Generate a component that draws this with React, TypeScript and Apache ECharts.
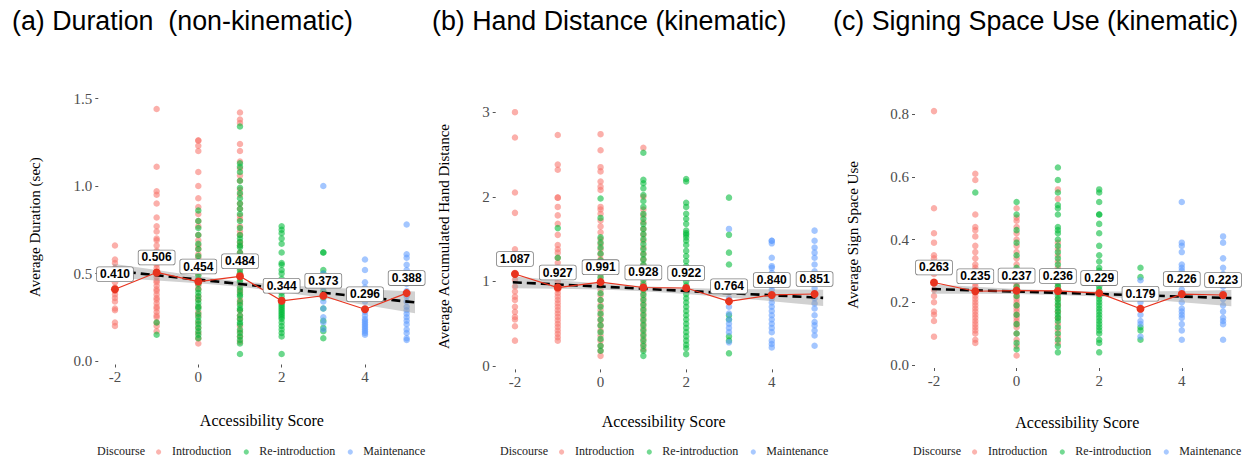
import React, { useEffect, useRef } from "react";
import * as echarts from "echarts";

const scores = [-2, -1, 0, 1, 2, 3, 4, 5];
const xTickValues = [-2, 0, 2, 4];
const categories = ["Introduction", "Re-introduction", "Maintenance"];
const panelTitles = ["(a) Duration  (non-kinematic)", "(b) Hand Distance (kinematic)", "(c) Signing Space Use (kinematic)"];
const yTitles = ["Average Duration (sec)", "Average Accumulated Hand Distance", "Average Sign Space Use"];
const xTitle = "Accessibility Score";
const legendTitle = "Discourse";

// ---- (a) Duration ----
const durIntro: number[][] = [
  [0.66, 0.58, 0.56, 0.53, 0.5, 0.47, 0.45, 0.42, 0.4, 0.38, 0.36, 0.34, 0.3, 0.29, 0.22, 0.2],
  [1.44, 1.11, 0.97, 0.95, 0.9, 0.82, 0.77, 0.74, 0.7, 0.69, 0.66, 0.63, 0.62, 0.6, 0.57, 0.56, 0.55, 0.53, 0.51, 0.5, 0.48, 0.46, 0.45, 0.43, 0.41, 0.4, 0.38, 0.36, 0.35, 0.33, 0.31, 0.3, 0.28, 0.26, 0.25, 0.22, 0.2, 0.17],
  [1.26, 1.26, 1.23, 1.2, 1.08, 1.0, 0.93, 0.88, 0.84, 0.8, 0.77, 0.72, 0.69, 0.66, 0.64, 0.61, 0.59, 0.55, 0.52, 0.5, 0.46, 0.43, 0.41, 0.37, 0.35, 0.31, 0.28, 0.26, 0.22, 0.19, 0.16, 0.13, 0.1],
  [1.42, 1.38, 1.36, 1.24, 1.2, 1.14, 1.1, 1.06, 1.03, 0.98, 0.95, 0.9, 0.87, 0.83, 0.81, 0.77, 0.74, 0.72, 0.68, 0.66, 0.62, 0.59, 0.57, 0.53, 0.5, 0.48, 0.44, 0.41, 0.39, 0.35, 0.33, 0.29, 0.26, 0.24, 0.2, 0.17, 0.14, 0.11],
  [], [], [], [],
];
const durReintro: number[][] = [
  [],
  [0.22, 0.15],
  [0.86, 0.8, 0.76, 0.72, 0.67, 0.64, 0.6, 0.57, 0.55, 0.53, 0.51, 0.49, 0.47, 0.45, 0.44, 0.41, 0.39, 0.37, 0.35, 0.33, 0.31, 0.3, 0.27, 0.25, 0.23, 0.21, 0.19, 0.17, 0.15, 0.13],
  [1.34, 1.13, 1.11, 1.08, 1.03, 0.99, 0.96, 0.93, 0.9, 0.87, 0.84, 0.8, 0.76, 0.72, 0.7, 0.68, 0.66, 0.65, 0.62, 0.6, 0.58, 0.56, 0.55, 0.52, 0.5, 0.48, 0.46, 0.45, 0.42, 0.4, 0.38, 0.37, 0.34, 0.32, 0.3, 0.29, 0.26, 0.24, 0.22, 0.21, 0.18, 0.16, 0.14, 0.12, 0.1, 0.04],
  [0.77, 0.75, 0.73, 0.7, 0.67, 0.62, 0.56, 0.55, 0.52, 0.5, 0.47, 0.45, 0.43, 0.41, 0.39, 0.37, 0.35, 0.33, 0.32, 0.31, 0.3, 0.29, 0.28, 0.27, 0.26, 0.25, 0.24, 0.22, 0.2, 0.18, 0.16, 0.14, 0.04],
  [0.62, 0.62, 0.52, 0.5, 0.45, 0.4, 0.36, 0.3, 0.23, 0.19, 0.17, 0.13],
  [], [],
];
const durMaint: number[][] = [
  [], [], [], [], [],
  [1.0, 0.5, 0.42, 0.38, 0.34, 0.3, 0.25, 0.22, 0.18],
  [0.58, 0.52, 0.45, 0.42, 0.4, 0.37, 0.34, 0.3, 0.28, 0.26, 0.24, 0.23, 0.22, 0.21, 0.2, 0.19, 0.18, 0.17, 0.16, 0.15],
  [0.78, 0.61, 0.59, 0.55, 0.52, 0.48, 0.44, 0.4, 0.37, 0.34, 0.31, 0.29, 0.27, 0.25, 0.23, 0.21, 0.18, 0.16, 0.13, 0.12],
];
const durMeans = [0.41, 0.506, 0.454, 0.484, 0.344, 0.373, 0.296, 0.388];
const fitX = [-2.05, -1, 0, 1, 2, 3, 4, 5.2];
const durFit = [0.516, 0.49, 0.465, 0.44, 0.415, 0.39, 0.365, 0.335];
const durLo = [0.476, 0.46, 0.445, 0.425, 0.395, 0.36, 0.32, 0.273];
const durHi = [0.556, 0.52, 0.485, 0.455, 0.435, 0.42, 0.41, 0.397];

// ---- (b) Hand distance ----
const handIntro: number[][] = [
  [3.0, 2.7, 2.05, 1.81, 1.38, 1.1, 1.02, 0.94, 0.88, 0.82, 0.78, 0.7, 0.64, 0.58, 0.55, 0.47, 0.3],
  [2.73, 2.38, 2.32, 1.99, 1.99, 1.88, 1.78, 1.68, 1.55, 1.43, 1.38, 1.34, 1.28, 1.22, 1.16, 1.1, 1.05, 1.0, 0.95, 0.9, 0.86, 0.82, 0.78, 0.74, 0.7, 0.66, 0.62, 0.58, 0.54, 0.5, 0.46, 0.42, 0.38, 0.34, 0.3],
  [2.74, 2.55, 2.35, 2.3, 2.18, 2.12, 2.08, 1.88, 1.85, 1.8, 1.72, 1.65, 1.58, 1.5, 1.44, 1.38, 1.32, 1.26, 1.2, 1.14, 1.08, 1.02, 0.96, 0.9, 0.84, 0.78, 0.72, 0.66, 0.6, 0.54, 0.48, 0.42, 0.36, 0.3, 0.24, 0.18, 0.12],
  [2.58, 2.0, 1.85, 1.78, 1.7, 1.62, 1.55, 1.48, 1.4, 1.33, 1.26, 1.19, 1.12, 1.05, 0.98, 0.92, 0.86, 0.8, 0.74, 0.68, 0.62, 0.56, 0.5, 0.44, 0.38, 0.32, 0.26, 0.2],
  [], [], [], [],
];
const handReintro: number[][] = [
  [],
  [1.63, 1.28, 1.1],
  [1.98, 1.75, 1.52, 1.46, 1.4, 1.33, 1.25, 1.15, 1.05, 0.95, 0.86, 0.78, 0.7, 0.62, 0.55, 0.48, 0.4, 0.32, 0.24, 0.18],
  [2.52, 2.2, 2.16, 2.1, 2.02, 1.95, 1.88, 1.8, 1.74, 1.68, 1.62, 1.56, 1.5, 1.44, 1.38, 1.32, 1.26, 1.2, 1.14, 1.08, 1.02, 0.96, 0.9, 0.84, 0.78, 0.72, 0.66, 0.6, 0.54, 0.48, 0.42, 0.36, 0.3, 0.24, 0.18, 0.12],
  [2.21, 2.18, 1.93, 1.88, 1.8, 1.74, 1.68, 1.6, 1.57, 1.55, 1.52, 1.48, 1.43, 1.36, 1.3, 1.24, 1.18, 1.12, 1.06, 1.0, 0.95, 0.9, 0.85, 0.8, 0.75, 0.7, 0.65, 0.6, 0.55, 0.5, 0.45, 0.4, 0.35, 0.3, 0.25, 0.21, 0.14],
  [1.99, 1.55, 1.34, 1.2, 0.6, 0.55, 0.35, 0.3, 0.15],
  [], [],
];
const handMaint: number[][] = [
  [], [], [], [], [],
  [1.62, 0.9, 0.8, 0.7, 0.62, 0.55, 0.5, 0.45, 0.4, 0.28],
  [1.48, 1.48, 1.45, 1.28, 1.18, 1.16, 1.1, 1.0, 0.95, 0.9, 0.85, 0.8, 0.75, 0.7, 0.65, 0.6, 0.55, 0.5, 0.45, 0.4, 0.3, 0.26, 0.22],
  [1.6, 1.48, 1.4, 1.34, 1.28, 1.2, 1.12, 1.05, 0.98, 0.92, 0.86, 0.8, 0.74, 0.68, 0.6, 0.52, 0.48, 0.42, 0.36, 0.24],
];
const handMeans = [1.087, 0.927, 0.991, 0.928, 0.922, 0.764, 0.84, 0.851];
const handFit = [0.99, 0.964, 0.939, 0.913, 0.887, 0.861, 0.836, 0.805];
const handLo = [0.92, 0.914, 0.904, 0.883, 0.852, 0.811, 0.766, 0.71];
const handHi = [1.06, 1.014, 0.974, 0.943, 0.922, 0.911, 0.906, 0.9];

// ---- (c) Sign space ----
const spaceIntro: number[][] = [
  [0.81, 0.5, 0.42, 0.39, 0.35, 0.34, 0.29, 0.26, 0.24, 0.22, 0.2, 0.17, 0.16, 0.14, 0.09],
  [0.61, 0.59, 0.48, 0.44, 0.43, 0.41, 0.38, 0.36, 0.34, 0.32, 0.31, 0.3, 0.29, 0.28, 0.27, 0.26, 0.25, 0.24, 0.23, 0.22, 0.21, 0.2, 0.19, 0.18, 0.17, 0.16, 0.15, 0.14, 0.13, 0.12, 0.11, 0.1, 0.08, 0.07],
  [0.5, 0.47, 0.46, 0.44, 0.42, 0.4, 0.38, 0.36, 0.34, 0.32, 0.3, 0.28, 0.27, 0.26, 0.25, 0.24, 0.23, 0.22, 0.21, 0.2, 0.19, 0.18, 0.17, 0.16, 0.15, 0.14, 0.13, 0.12, 0.1, 0.08, 0.06, 0.03],
  [0.56, 0.53, 0.39, 0.37, 0.35, 0.33, 0.31, 0.29, 0.27, 0.25, 0.23, 0.21, 0.19, 0.17, 0.15, 0.13, 0.11, 0.09, 0.07],
  [], [], [], [],
];
const spaceReintro: number[][] = [
  [],
  [0.55],
  [0.52, 0.48, 0.43, 0.39, 0.35, 0.31, 0.28, 0.25, 0.22, 0.19, 0.16, 0.13, 0.1, 0.07, 0.05],
  [0.63, 0.59, 0.55, 0.51, 0.5, 0.48, 0.44, 0.43, 0.42, 0.4, 0.38, 0.36, 0.34, 0.32, 0.3, 0.29, 0.28, 0.27, 0.26, 0.25, 0.24, 0.23, 0.22, 0.21, 0.2, 0.19, 0.18, 0.17, 0.16, 0.15, 0.14, 0.12, 0.1, 0.08, 0.06, 0.04],
  [0.56, 0.55, 0.52, 0.48, 0.48, 0.45, 0.42, 0.38, 0.35, 0.33, 0.31, 0.3, 0.29, 0.28, 0.27, 0.26, 0.25, 0.24, 0.23, 0.22, 0.21, 0.2, 0.19, 0.18, 0.17, 0.16, 0.15, 0.14, 0.13, 0.12, 0.11, 0.1, 0.08, 0.07, 0.04],
  [0.31, 0.28, 0.22, 0.12, 0.11, 0.08],
  [], [],
];
const spaceMaint: number[][] = [
  [], [], [], [], [],
  [0.27, 0.22, 0.2, 0.18, 0.16, 0.14, 0.13, 0.09],
  [0.52, 0.39, 0.38, 0.36, 0.32, 0.31, 0.3, 0.28, 0.26, 0.24, 0.22, 0.2, 0.18, 0.17, 0.16, 0.15, 0.13, 0.11, 0.08],
  [0.41, 0.39, 0.34, 0.31, 0.29, 0.27, 0.25, 0.23, 0.21, 0.19, 0.17, 0.15, 0.14, 0.13, 0.08],
];
const spaceMeans = [0.263, 0.235, 0.237, 0.236, 0.229, 0.179, 0.226, 0.223];
const spaceFit = [0.242, 0.238, 0.234, 0.23, 0.226, 0.222, 0.218, 0.213];
const spaceLo = [0.227, 0.227, 0.226, 0.223, 0.218, 0.21, 0.2, 0.187];
const spaceHi = [0.257, 0.249, 0.242, 0.237, 0.234, 0.234, 0.236, 0.239];

const durTicks = [0, 0.5, 1, 1.5];
const handTicks = [0, 1, 2, 3];
const spaceTicks = [0, 0.2, 0.4, 0.6, 0.8];

const catColors = ["#F8766D", "#00BA38", "#619CFF"];
const meanColor = "#E8341F";

export default function App() {
  const ref = useRef<HTMLDivElement>(null);
  useEffect(() => {
    document.body.style.margin = "0";
    if (!ref.current) return;
    const chart = echarts.init(ref.current, undefined, { renderer: "svg" });

    const panels = [
      {
        groups: [durIntro, durReintro, durMaint], means: durMeans, fit: durFit, lo: durLo, hi: durHi,
        ticks: durTicks, dec: 1,
        grid: { left: 98.3, top: 89.75, width: 327.1, height: 274.75 },
        x: [-2.4, 5.45], y: [-0.02, 1.55], yGap: 56, xGap: 48,
        legendX: 97, legendY: 452, titleX: 12,
      },
      {
        groups: [handIntro, handReintro, handMaint], means: handMeans, fit: handFit, lo: handLo, hi: handHi,
        ticks: handTicks, dec: 0,
        grid: { left: 495.7, top: 103.7, width: 336, height: 265.7 },
        x: [-2.45, 5.4], y: [-0.04, 3.1], yGap: 44, xGap: 44,
        legendX: 500, legendY: 452, titleX: 432,
      },
      {
        groups: [spaceIntro, spaceReintro, spaceMaint], means: spaceMeans, fit: spaceFit, lo: spaceLo, hi: spaceHi,
        ticks: spaceTicks, dec: 1,
        grid: { left: 915, top: 101.7, width: 324.6, height: 266.3 },
        x: [-2.46, 5.4], y: [-0.01, 0.84], yGap: 55, xGap: 46,
        legendX: 913, legendY: 452, titleX: 833,
      },
    ];

    const tickLabelStyle = { fontFamily: "Liberation Serif", fontSize: 15, color: "#4d4d4d" };
    const grids: any[] = [];
    const xAxes: any[] = [];
    const yAxes: any[] = [];
    const series: any[] = [];
    const graphics: any[] = [];
    const titles: any[] = [];

    panels.forEach((p, pi) => {
      grids.push({ ...p.grid, containLabel: false });
      xAxes.push({
        type: "value", gridIndex: pi, min: p.x[0], max: p.x[1],
        name: xTitle, nameLocation: "middle", nameGap: p.xGap,
        nameTextStyle: { fontFamily: "Liberation Serif", fontSize: 16, color: "#000" },
        axisLine: { show: false, onZero: false }, splitLine: { show: false },
        axisTick: { show: true, length: 3, lineStyle: { color: "#555", width: 1 }, customValues: xTickValues },
        axisLabel: { ...tickLabelStyle, margin: 5, customValues: xTickValues, formatter: (v: number) => String(v) },
      });
      yAxes.push({
        type: "value", gridIndex: pi, min: p.y[0], max: p.y[1],
        name: yTitles[pi], nameLocation: "middle", nameGap: p.yGap,
        nameTextStyle: { fontFamily: "Liberation Serif", fontSize: 15, color: "#000" },
        axisLine: { show: false, onZero: false }, splitLine: { show: false },
        axisTick: { show: true, length: 3, lineStyle: { color: "#555", width: 1 }, customValues: p.ticks },
        axisLabel: { ...tickLabelStyle, margin: 6, customValues: p.ticks, formatter: (v: number) => v.toFixed(p.dec) },
      });

      p.groups.forEach((g, gi) => {
        const data: number[][] = [];
        g.forEach((vals, si) => vals.forEach((v) => data.push([scores[si], v])));
        series.push({
          type: "scatter", name: categories[gi], xAxisIndex: pi, yAxisIndex: pi,
          data, symbol: "circle", symbolSize: 6.5, z: 2,
          itemStyle: { color: catColors[gi], opacity: 0.58 },
          silent: true,
        });
      });

      const bandData = fitX.map((x, i) => [x, p.lo[i], p.hi[i]]);
      series.push({
        type: "custom", xAxisIndex: pi, yAxisIndex: pi, z: 3, silent: true,
        data: bandData,
        encode: { x: 0, y: [1, 2] },
        renderItem: (params: any, api: any) => {
          if (params.dataIndex !== 0) return null;
          const pts: number[][] = [];
          for (let i = 0; i < bandData.length; i++) pts.push(api.coord([bandData[i][0], bandData[i][2]]));
          for (let i = bandData.length - 1; i >= 0; i--) pts.push(api.coord([bandData[i][0], bandData[i][1]]));
          return { type: "polygon", shape: { points: pts }, style: { fill: "rgba(153,153,153,0.45)" } };
        },
      });
      series.push({
        type: "line", xAxisIndex: pi, yAxisIndex: pi, z: 4, silent: true,
        data: fitX.map((x, i) => [x, p.fit[i]]), showSymbol: false, symbol: "none",
        lineStyle: { color: "#000", width: 2.6, type: [9, 5] },
      });
      series.push({
        type: "line", xAxisIndex: pi, yAxisIndex: pi, z: 5, silent: true,
        data: scores.map((s, i) => [s, p.means[i]]),
        symbol: "circle", symbolSize: 8, showSymbol: true,
        lineStyle: { color: meanColor, width: 1.2 },
        itemStyle: { color: meanColor },
        label: {
          show: true, position: "top", distance: 4,
          formatter: (d: any) => d.value[1].toFixed(3),
          fontFamily: "Liberation Sans", fontWeight: "bold", fontSize: 12, color: "#000",
          backgroundColor: "#fff", borderColor: "#808080", borderWidth: 0.8, borderRadius: 2,
          padding: [1, 3, 1, 3],
        },
      });

      titles.push({
        text: panelTitles[pi], left: p.titleX, top: 7, padding: 0,
        textStyle: { fontFamily: "Liberation Sans", fontSize: 26.8, fontWeight: "normal", color: "#000" },
      });

      const lx = p.legendX;
      const ly = p.legendY;
      const textStyle = { fontFamily: "Liberation Serif", fontSize: 12, fill: "#222", verticalAlign: "middle" };
      graphics.push({ type: "text", left: lx, top: ly - 7, style: { text: legendTitle, ...textStyle } });
      const dotOff = [61.6, 149.3, 253.3];
      const txtOff = [75, 162.3, 266.3];
      categories.forEach((c, ci) => {
        graphics.push({ type: "circle", shape: { cx: lx + dotOff[ci], cy: ly, r: 2.6 }, style: { fill: catColors[ci], opacity: 0.55 } });
        graphics.push({ type: "text", left: lx + txtOff[ci], top: ly - 7, style: { text: c, ...textStyle } });
      });
    });

    chart.setOption({
      animation: false,
      backgroundColor: "#fff",
      title: titles,
      grid: grids,
      xAxis: xAxes,
      yAxis: yAxes,
      series,
      graphic: graphics,
    });
    return () => chart.dispose();
  }, []);
  return <div ref={ref} style={{ width: 1248, height: 460 }} />;
}
